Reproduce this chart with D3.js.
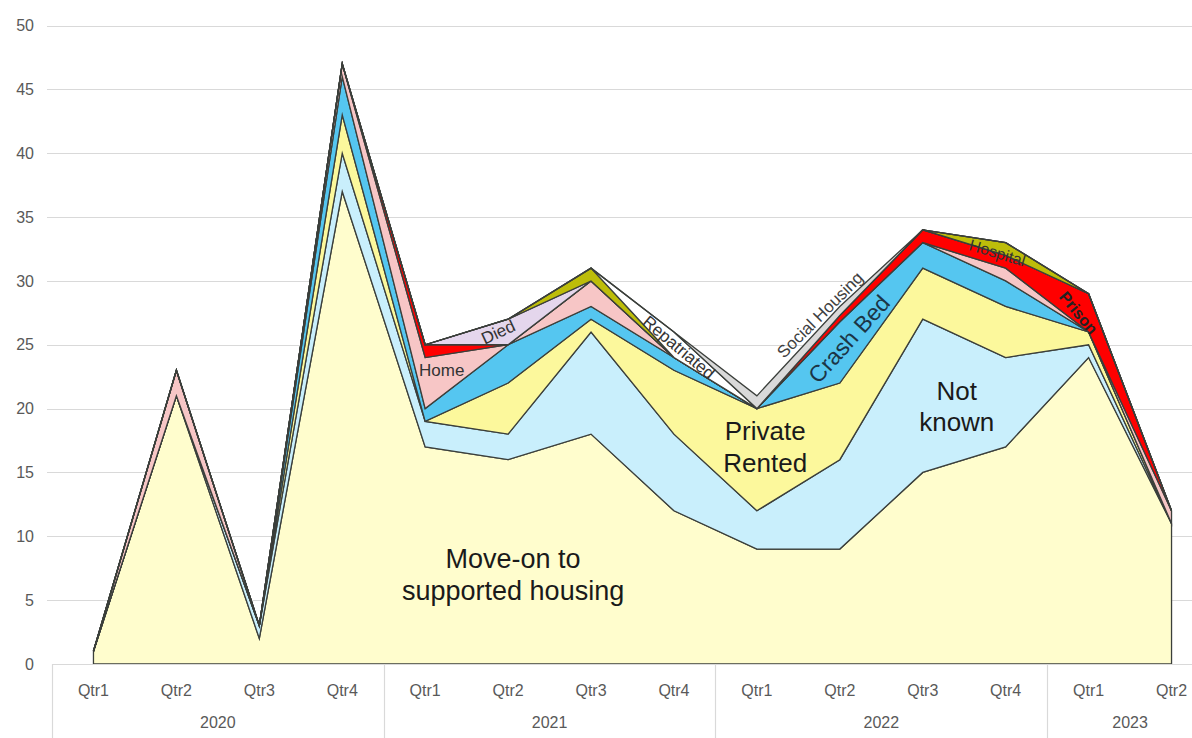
<!DOCTYPE html>
<html>
<head>
<meta charset="utf-8">
<script src="https://cdn.jsdelivr.net/npm/d3@7"></script>
<style>
  body { margin: 0; background: #fff; }
  svg { display: block; font-family: "Liberation Sans", Arial, sans-serif; }
</style>
</head>
<body>
<svg class="chart" width="1192" height="738"></svg>
<script>
const quarters = ["Qtr1", "Qtr2", "Qtr3", "Qtr4", "Qtr1", "Qtr2", "Qtr3", "Qtr4", "Qtr1", "Qtr2", "Qtr3", "Qtr4", "Qtr1", "Qtr2"];
const years = ["2020", "2021", "2022", "2023"];
const quartersPerYear = [4, 4, 4, 2];
const yTicks = [0, 5, 10, 15, 20, 25, 30, 35, 40, 45, 50];

// stacked bottom -> top
const moveOn = [1, 21, 2, 37, 17, 16, 18, 12, 9, 9, 15, 17, 24, 11];
const notKnown = [0, 0, 1, 3, 2, 2, 8, 6, 3, 7, 12, 7, 1, 0];
const privateRented = [0, 0, 0, 3, 0, 4, 1, 5, 8, 6, 4, 4, 1, 0];
const crashBed = [0, 0, 0, 3, 1, 3, 1, 1, 0, 4.8, 2, 2, 0, 0];
const home = [0, 2, 0, 1, 4, 0, 2, 0, 0, 0, 0, 1, 0, 1];
const prison = [0, 0, 0, 0, 1, 0, 0, 0, 0, 0.5, 1, 1, 3, 0];
const died = [0, 0, 0, 0, 0, 2, 0, 0, 0, 0, 0, 0, 0, 0];
const hospital = [0, 0, 0, 0, 0, 0, 1, 0, 0, 0, 0, 1, 0, 0];
const repatriated = [0, 0, 0, 0, 0, 0, 0, 2, 0, 0, 0, 0, 0, 0];
const socialHousing = [0, 0, 0, 0, 0, 0, 0, 0, 1, 0.7, 0, 0, 0, 0];

const seriesKeys = ["moveOn", "notKnown", "privateRented", "crashBed", "home", "prison", "died", "hospital", "repatriated", "socialHousing"];
const seriesValues = [moveOn, notKnown, privateRented, crashBed, home, prison, died, hospital, repatriated, socialHousing];
const seriesColours = ["#fffdcd", "#c9effc", "#fcf89c", "#55c6f0", "#f7c6c6", "#ff0000", "#e4d6ec", "#bdbd0a", "#ffffff", "#d9d9d9"];

// in-chart labels: [text lines, quarter index, value, angle, size, weight, colour]
const labels = [
  [["Move-on to", "supported housing"], 5.06, 7.0, 0, 27, "normal", "#1a1a1a"],
  [["Private", "Rented"], 8.1, 17.0, 0, 26, "normal", "#1a1a1a"],
  [["Not", "known"], 10.41, 20.2, 0, 26, "normal", "#1a1a1a"],
  [["Crash Bed"], 9.11, 25.45, -48, 23, "normal", "#1b3546"],
  [["Social Housing"], 8.76, 27.35, -45, 17, "normal", "#404040"],
  [["Home"], 4.2, 23.0, 0, 17, "normal", "#333"],
  [["Died"], 4.88, 26.0, -25, 17, "normal", "#333"],
  [["Repatriated"], 7.06, 24.8, 40, 17, "normal", "#333"],
  [["Hospital"], 10.9, 32.2, 17, 16, "normal", "#333"],
  [["Prison"], 11.88, 27.5, 50, 16, "bold", "#222"],
];

const svg = d3.select(".chart"),
  chartWidth = 1192,
  chartHeight = 738,
  plotLeft = 52,
  plotRight = 1213,
  plotTop = 25.5,
  plotBottom = 664;

const rows = quarters.map((q, i) => {
  const row = { i };
  seriesKeys.forEach((k, j) => (row[k] = seriesValues[j][i]));
  return row;
});

const band = d3
  .scaleBand()
  .domain(d3.range(quarters.length))
  .range([plotLeft, plotRight]);
const x = (i) => band(0) + band.bandwidth() / 2 + i * band.step();

const y = d3.scaleLinear().domain([0, 50]).range([plotBottom, plotTop]);

// gridlines + y labels
svg
  .append("g")
  .selectAll("line")
  .data(yTicks.filter((t) => t > 0))
  .enter()
  .append("line")
  .attr("x1", 47)
  .attr("x2", chartWidth)
  .attr("y1", (d) => Math.round(y(d)) + 0.5)
  .attr("y2", (d) => Math.round(y(d)) + 0.5)
  .attr("stroke", "#d9d9d9")
  .attr("stroke-width", 1.2);

svg
  .append("g")
  .selectAll("text")
  .data(yTicks)
  .enter()
  .append("text")
  .attr("x", 34)
  .attr("y", (d) => y(d))
  .attr("dy", "0.35em")
  .attr("text-anchor", "end")
  .attr("font-size", 16)
  .attr("fill", "#595959")
  .text((d) => d);

const stacked = d3.stack().keys(seriesKeys)(rows);

const area = d3
  .area()
  .x((d) => x(d.data.i))
  .y0((d) => y(d[0]))
  .y1((d) => y(d[1]));

svg
  .append("clipPath")
  .attr("id", "plot-clip")
  .append("rect")
  .attr("x", 0)
  .attr("y", 0)
  .attr("width", chartWidth)
  .attr("height", plotBottom);

svg
  .append("g")
  .attr("clip-path", "url(#plot-clip)")
  .selectAll("path")
  .data(stacked)
  .enter()
  .append("path")
  .attr("d", area)
  .attr("fill", (d, i) => seriesColours[i])
  .attr("stroke", "#3b3f3b")
  .attr("stroke-width", 1.3)
  .attr("stroke-linejoin", "miter")
  .attr("stroke-miterlimit", 20);

// category axis box
const axis = svg.append("g");
axis
  .append("line")
  .attr("x1", plotLeft)
  .attr("x2", chartWidth)
  .attr("y1", plotBottom + 0.5)
  .attr("y2", plotBottom + 0.5)
  .attr("stroke", "#d9d9d9")
  .attr("stroke-width", 1.2);

let start = 0;
const groups = quartersPerYear.map((n, k) => {
  const g = { label: years[k], start, end: start + n };
  start += n;
  return g;
});

axis
  .selectAll(".divider")
  .data(groups)
  .enter()
  .append("line")
  .attr("class", "divider")
  .attr("x1", (d) => Math.round(band(d.start)) + 0.5)
  .attr("x2", (d) => Math.round(band(d.start)) + 0.5)
  .attr("y1", plotBottom)
  .attr("y2", chartHeight)
  .attr("stroke", "#d9d9d9")
  .attr("stroke-width", 1.2);

axis
  .selectAll(".qtr")
  .data(quarters)
  .enter()
  .append("text")
  .attr("class", "qtr")
  .attr("x", (d, i) => x(i))
  .attr("y", 696)
  .attr("text-anchor", "middle")
  .attr("font-size", 16)
  .attr("fill", "#595959")
  .text((d) => d);

axis
  .selectAll(".year")
  .data(groups)
  .enter()
  .append("text")
  .attr("class", "year")
  .attr("x", (d) => (band(d.start) + band(d.end - 1) + band.bandwidth()) / 2)
  .attr("y", 728)
  .attr("text-anchor", "middle")
  .attr("font-size", 16)
  .attr("fill", "#595959")
  .text((d) => d.label);

// series labels
const label = svg
  .append("g")
  .selectAll("text")
  .data(labels)
  .enter()
  .append("text")
  .attr("transform", (d) => `translate(${x(d[1])},${y(d[2])}) rotate(${d[3]})`)
  .attr("text-anchor", "middle")
  .attr("font-size", (d) => d[4])
  .attr("font-weight", (d) => d[5])
  .attr("fill", (d) => d[6]);

label
  .selectAll("tspan")
  .data((d) => d[0].map((t, k) => ({ t, k, n: d[0].length, size: d[4] })))
  .enter()
  .append("tspan")
  .attr("x", 0)
  .attr("y", (d) => (d.k - (d.n - 1) / 2) * d.size * 1.2)
  .attr("dy", "0.35em")
  .text((d) => d.t);
</script>
</body>
</html>
